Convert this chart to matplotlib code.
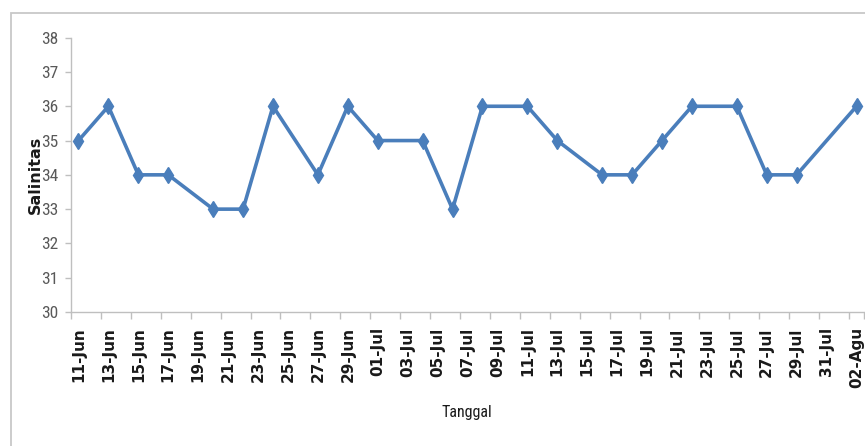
import numpy as np
import matplotlib
matplotlib.use("Agg")
import matplotlib.pyplot as plt
from matplotlib import font_manager
from matplotlib.patches import Rectangle

# Salinity measurements per sampling date
sample_dates = [
    "2013-06-11", "2013-06-13", "2013-06-15", "2013-06-17", "2013-06-20",
    "2013-06-22", "2013-06-24", "2013-06-27", "2013-06-29", "2013-07-01",
    "2013-07-04", "2013-07-06", "2013-07-08", "2013-07-11", "2013-07-13",
    "2013-07-16", "2013-07-18", "2013-07-20", "2013-07-22", "2013-07-25",
    "2013-07-27", "2013-07-29", "2013-08-02",
]
salinity = [35, 36, 34, 34, 33, 33, 36, 34, 36, 35, 35, 33, 36, 36, 35,
            34, 34, 35, 36, 36, 34, 34, 36]

tick_labels = [
    "11-Jun", "13-Jun", "15-Jun", "17-Jun", "19-Jun", "21-Jun", "23-Jun",
    "25-Jun", "27-Jun", "29-Jun", "01-Jul", "03-Jul", "05-Jul", "07-Jul",
    "09-Jul", "11-Jul", "13-Jul", "15-Jul", "17-Jul", "19-Jul", "21-Jul",
    "23-Jul", "25-Jul", "27-Jul", "29-Jul", "31-Jul", "02-Agu",
]
y_ticks = [30, 31, 32, 33, 34, 35, 36, 37, 38]


def pick_font(candidates):
    for name in candidates:
        try:
            font_manager.findfont(font_manager.FontProperties(family=name),
                                  fallback_to_default=False)
            return name
        except Exception:
            continue
    return "DejaVu Sans"


narrow = pick_font(["Liberation Sans Narrow", "Roboto Condensed", "Liberation Sans"])

# day offsets from the first sampling date
day0 = np.datetime64(sample_dates[0], "D")
x = (np.array(sample_dates, dtype="datetime64[D]") - day0).astype(int)
label_pos = np.arange(len(tick_labels)) * 2
boundaries = np.append(label_pos - 0.5, label_pos[-1] + 0.5)

W, H = 865, 446
fig = plt.figure(figsize=(W / 100, H / 100), dpi=100)
fig.patch.set_facecolor("white")

# outer chart frame
fig.patches.append(Rectangle((11 / W, -0.1), 1.2, (H - 13) / H + 0.1,
                             transform=fig.transFigure, fill=False,
                             edgecolor="#C8C8C8", linewidth=1.3))

left, right, top, bottom = 71, 864, 37.7, 312
ax = fig.add_axes([left / W, (H - bottom) / H, (right - left) / W, (bottom - top) / H])
ax.set_facecolor("none")

ax.plot(x, salinity, color="#4A7EBB", linewidth=2.6, marker="d",
        markersize=8.5, markeredgewidth=1, markeredgecolor="#4A7EBB",
        markerfacecolor="#4A7EBB", clip_on=False, zorder=3)

ax.set_xlim(boundaries[0], boundaries[-1])
ax.set_ylim(30, 38)

for s in ("top", "right"):
    ax.spines[s].set_visible(False)
for s in ("left", "bottom"):
    ax.spines[s].set_color("#BFBFBF")
    ax.spines[s].set_linewidth(1.0)

# tick marks at day boundaries, labels centred on each date
ax.set_xticks(boundaries)
ax.set_xticklabels([])
ax.set_xticks(label_pos, minor=True)
ax.set_xticklabels(tick_labels, minor=True, rotation=90, fontsize=11,
                   fontweight="bold", color="#1a1a1a", va="top", ha="center")
ax.tick_params(axis="x", which="major", direction="out", length=5,
               color="#BFBFBF", width=1)
ax.tick_params(axis="x", which="minor", length=0, pad=11)

ax.set_yticks(y_ticks)
ax.set_yticklabels([str(v) for v in y_ticks], family=narrow, fontsize=12.5,
                   color="#595959")
ax.tick_params(axis="y", direction="out", length=4, color="#BFBFBF",
               width=1, pad=5)

fig.text(35 / W, 1 - 175 / H, "Salinitas", rotation=90, ha="center",
         va="center", fontsize=11.5, fontweight="bold", color="#1a1a1a")
fig.text(467 / W, 1 - 413 / H, "Tanggal", ha="center", va="center",
         family=narrow, fontsize=11.5, color="#1a1a1a")

fig.savefig("out.png", dpi=100)
